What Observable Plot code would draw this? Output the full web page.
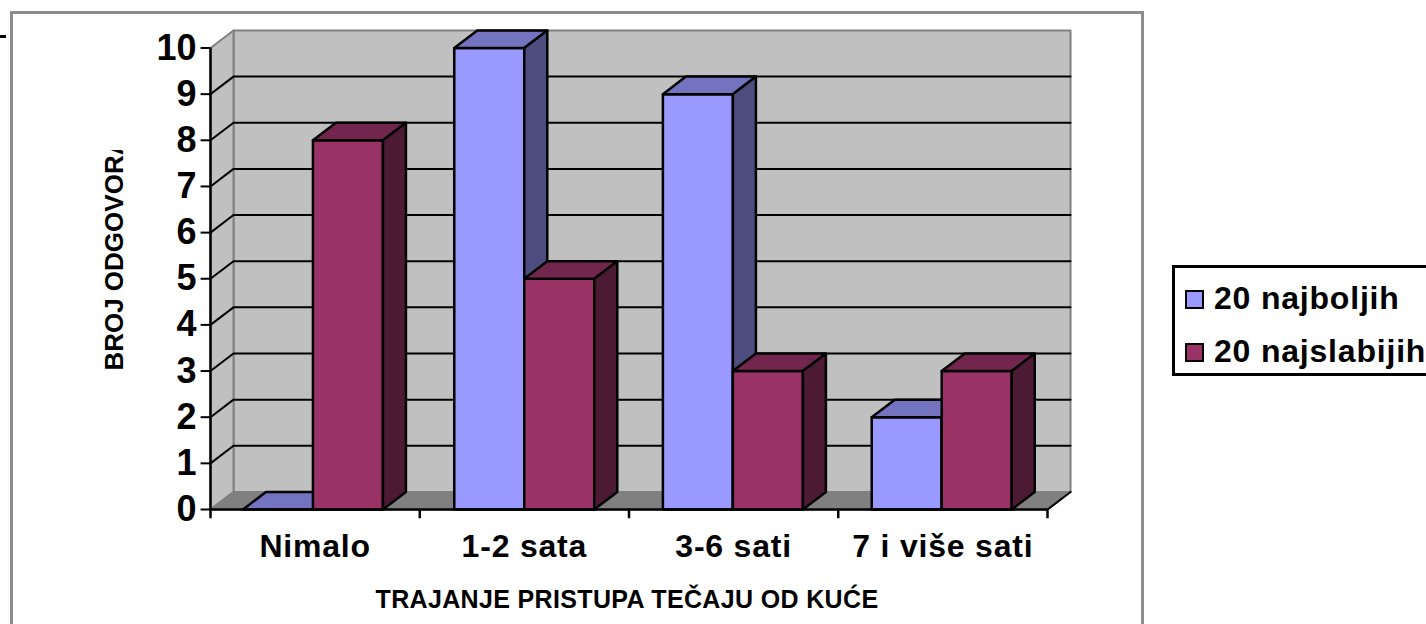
<!DOCTYPE html>
<html><head><meta charset="utf-8">
<script src="https://cdn.jsdelivr.net/npm/d3@7"></script>
<script src="https://cdn.jsdelivr.net/npm/@observablehq/plot@0.6"></script>
<style>
html,body{margin:0;padding:0;background:#fff;width:1426px;height:624px;overflow:hidden;position:relative;font-family:"Liberation Sans",Arial,sans-serif}
#frame{position:absolute;left:10px;top:11px;width:1128px;height:640px;border:3px solid #8c8c8c;pointer-events:none}
#legend{position:absolute;left:1172px;top:265px;width:270px;height:105px;border:3px solid #000;font-weight:bold;font-size:32px;color:#000}
#legend div{position:absolute;left:10px;white-space:nowrap;line-height:36px;letter-spacing:0.8px}
#legend i{display:inline-block;width:15px;height:15px;border:2.5px solid #000;margin-right:10px;vertical-align:0px}
#chart{position:absolute;left:0;top:0}
#dash{position:absolute;left:0;top:35px;width:6px;height:3px;background:#000}
</style></head><body>
<div id="chart"></div><div id="frame"></div><div id="dash"></div><div id="legend"></div>
<script>
const categories = ["Nimalo", "1-2 sata", "3-6 sati", "7 i više sati"];
const seriesNames = ["20 najboljih", "20 najslabijih"];
const najboljih = [0, 10, 9, 2];
const najslabijih = [8, 5, 3, 3];
const yTicks = [0,1,2,3,4,5,6,7,8,9,10];
const barStarts = [0.155, 1.165, 2.162, 3.16];
const barWidth = 0.3345;
const depthX = 0.11, depthY = 0.38;
const seriesColors = [
  {front:"#9999ff", top:"#7373bf", side:"#4d4d80"},
  {front:"#993366", top:"#73264d", side:"#4d1a33"}
];
const wallGrey = "#c0c0c0", floorGrey = "#808080";

const poly = (id, c, pts) => pts.map(([x,y]) => ({id, c, x, y}));
const faces = [];
categories.forEach((_, i) => {
  [najboljih[i], najslabijih[i]].forEach((v, s) => {
    const x0 = barStarts[i] + s*barWidth, x1 = x0 + barWidth, col = seriesColors[s], k = `${i}-${s}`;
    if (v > 0) faces.push(...poly(k+"f", col.front, [[x0,0],[x1,0],[x1,v],[x0,v]]));
    faces.push(...poly(k+"t", col.top, [[x0,v],[x1,v],[x1+depthX,v+depthY],[x0+depthX,v+depthY]]));
    if (v > 0) faces.push(...poly(k+"s", col.side, [[x1,0],[x1+depthX,depthY],[x1+depthX,v+depthY],[x1,v]]));
  });
});
const n = categories.length;
const walls = [
  ...poly("back", wallGrey, [[depthX,depthY],[n+depthX,depthY],[n+depthX,10+depthY],[depthX,10+depthY]]),
  ...poly("left", wallGrey, [[0,0],[depthX,depthY],[depthX,10+depthY],[0,10]]),
  ...poly("floor", floorGrey, [[0,0],[n,0],[n+depthX,depthY],[depthX,depthY]])
];
const gridLines = yTicks.filter(d=>d>0&&d<10).flatMap(t=>[{z:t,x:0,y:t},{z:t,x:depthX,y:t+depthY},{z:t,x:n+depthX,y:t+depthY}]);
const floorEdge = [{x:n,y:0},{x:n+depthX,y:depthY}];
const closed = {x:"x", y:"y", z:"id", fill:"c", curve:"linear-closed"};
const clipId = "ytitle-clip";

const chart = Plot.plot({
  width:1426, height:624, margin:0,
  style:{background:"transparent", fontFamily:"'Liberation Sans',Arial,sans-serif"},
  color:{type:"identity"},
  x:{domain:[0,n], range:[210,1047], axis:null},
  y:{domain:[0,10], range:[509,47.5], axis:null},
  marks:[
    Plot.line(walls, {...closed, stroke:"#808080", strokeWidth:2}),
    Plot.line(gridLines, {x:"x", y:"y", z:"z", stroke:"#000", strokeWidth:2}),
    Plot.line(floorEdge, {x:"x", y:"y", stroke:"#000", strokeWidth:2}),
    Plot.line(faces, {...closed, stroke:"#000", strokeWidth:2.5}),
    Plot.ruleX([0], {y1:0, y2:10, stroke:"#000", strokeWidth:2.5}),
    Plot.ruleY([0], {x1:0, x2:n, stroke:"#000", strokeWidth:2.5}),
    Plot.ruleY(yTicks, {x1:-0.045, x2:0, stroke:"#000", strokeWidth:2}),
    Plot.ruleX(d3.range(n+1), {y1:-0.2, y2:0, stroke:"#000", strokeWidth:2.5}),
    Plot.text(yTicks, {x:0, y:d=>d, text:d=>String(d), dx:-14, textAnchor:"end", fontSize:36, fontWeight:"bold", fill:"#000"}),
    Plot.text(categories, {x:(d,i)=>i+0.5, y:0, text:d=>d, dy:37, fontSize:32, fontWeight:"bold", fill:"#000",
      render(index, scales, values, dim, ctx, next){ const g = next(index, scales, values, dim, ctx); g.style.letterSpacing="0.8px"; return g; }}),
    Plot.text(["TRAJANJE PRISTUPA TEČAJU OD KUĆE"], {x:n/2, y:0, text:d=>d, dy:90, dx:-2, fontSize:25, fontWeight:"bold", fill:"#000",
      render(index, scales, values, dim, ctx, next){ const g = next(index, scales, values, dim, ctx); g.style.letterSpacing="0.35px"; return g; }}),
    Plot.text(["BROJ ODGOVORA"], {
      x:0, y:3.01, text:d=>d, dx:-96, rotate:-90, textAnchor:"start", fontSize:26, fontWeight:"bold", fill:"#000",
      render(index, scales, values, dim, ctx, next){
        const g = next(index, scales, values, dim, ctx);
        const svgNS = "http://www.w3.org/2000/svg";
        const cp = document.createElementNS(svgNS,"clipPath"); cp.setAttribute("id",clipId);
        const r = document.createElementNS(svgNS,"rect");
        r.setAttribute("x",0); r.setAttribute("y",150); r.setAttribute("width",1426); r.setAttribute("height",474);
        cp.appendChild(r);
        const wrap = document.createElementNS(svgNS,"g");
        wrap.appendChild(cp); wrap.appendChild(g);
        wrap.setAttribute("clip-path",`url(#${clipId})`);
        return wrap;
      }
    })
  ]
});
document.getElementById("chart").appendChild(chart);
const lg = document.getElementById("legend");
seriesNames.forEach((name,i)=>{
  const row = document.createElement("div");
  row.style.top = (i*53+12)+"px";
  const sw = document.createElement("i"); sw.style.background = seriesColors[i].front;
  row.appendChild(sw); row.appendChild(document.createTextNode(name));
  lg.appendChild(row);
});
</script></body></html>
